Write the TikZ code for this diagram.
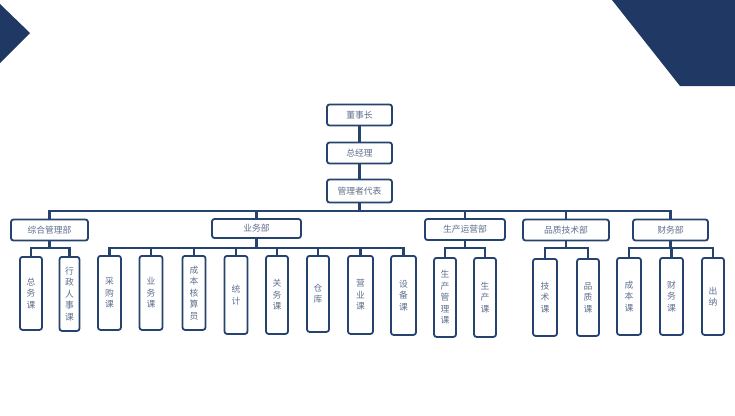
\documentclass[tikz,border=0pt]{standalone}
\usepackage{fontspec}
\newfontfamily\cjk{Noto Sans CJK SC}
\definecolor{navy}{HTML}{1F3864}
\definecolor{boxline}{HTML}{26436F}
\definecolor{boxtext}{HTML}{5F6F8C}

\begin{document}
\begin{tikzpicture}
[x=1pt,y=-1pt,%
  every node/.style={shape=rectangle,rounded corners=2.5pt,draw=boxline,line width=1.8pt,
    inner sep=0pt,text=boxtext,font=\cjk\fontsize{8.8}{11.5}\selectfont},%
  link/.style={draw=boxline,line width=2.2pt},%
  topbox/.style={minimum width=65pt,minimum height=21pt},%
  dept/.style={minimum height=21pt},%
  sect/.style={anchor=north,minimum width=23pt,minimum height=76pt,align=center}]
\useasboundingbox (0,0) rectangle (735,415);
\fill[navy] (0,4) -- (30,33) -- (0,63) -- cycle;
\fill[navy] (612,0) -- (735,0) -- (735,86) -- (680,86) -- cycle;
\node[topbox] (ceo) at (359.5,115) {董事长};
\node[topbox] (gm) at (359.5,153) {总经理};
\node[topbox,minimum height=23pt] (mr) at (359.5,191) {管理者代表};
\node[dept,minimum width=77pt] (d1) at (49.5,230) {综合管理部};
\node[dept,minimum width=89pt,minimum height=19pt] (d2) at (256.5,228.5) {业务部};
\node[dept,minimum width=80pt] (d3) at (465,229.5) {生产运营部};
\node[dept,minimum width=86pt] (d4) at (566,230) {品质技术部};
\node[dept,minimum width=75pt] (d5) at (670.5,230) {财务部};
\node[sect,minimum width=22pt,minimum height=73pt] (s11) at (31,256) {总\\务\\课};
\node[sect,minimum width=20pt,minimum height=74pt] (s12) at (69.5,256) {行\\政\\人\\事\\课};
\node[sect,minimum height=74pt] (s21) at (109.5,255) {采\\购\\课};
\node[sect,minimum height=74pt] (s22) at (151,255) {业\\务\\课};
\node[sect,minimum height=74pt] (s23) at (194,255) {成\\本\\核\\算\\员};
\node[sect,minimum height=78pt] (s24) at (236,255) {统\\计};
\node[sect,minimum width=22pt,minimum height=78pt] (s25) at (277,255) {关\\务\\课};
\node[sect,minimum width=22pt] (s26) at (318,255) {仓\\库};
\node[sect,minimum width=25pt,minimum height=78pt] (s27) at (360.5,255) {营\\业\\课};
\node[sect,minimum width=25pt,minimum height=79pt] (s28) at (403.5,255) {设\\备\\课};
\node[sect,minimum width=22pt,minimum height=79pt] (s31) at (445,257) {生\\产\\管\\理\\课};
\node[sect,minimum width=22pt,minimum height=79pt] (s32) at (485,257) {生\\产\\课};
\node[sect,minimum width=24pt,minimum height=77pt] (s41) at (545,258) {技\\术\\课};
\node[sect,minimum width=22pt,minimum height=77pt] (s42) at (588,258) {品\\质\\课};
\node[sect,minimum width=24pt,minimum height=77pt] (s51) at (629,257) {成\\本\\课};
\node[sect,minimum height=77pt] (s52) at (671.5,257) {财\\务\\课};
\node[sect,minimum width=22pt,minimum height=77pt] (s53) at (713,257) {出\\纳};
\coordinate (mrb) at (359.5,210.7);
\coordinate (d1b) at (49.5,248);
\coordinate (d2b) at (256.5,248);
\coordinate (d3b) at (465,248);
\coordinate (d4b) at (566,248);
\coordinate (d5b) at (670.5,248);
\draw[link] (ceo) -- (gm);
\draw[link] (gm) -- (mr);
\draw[link] (mr) -- (mrb);
\foreach \d in {d1,d2,d3,d4,d5}
  \draw[link] (mrb) -| (\d.north);
\foreach \d/\s in {d1/s11,d1/s12,d2/s21,d2/s22,d2/s23,d2/s24,d2/s25,d2/s26,d2/s27,d2/s28,%
  d3/s31,d3/s32,d4/s41,d4/s42,d5/s51,d5/s52,d5/s53}
  \draw[link] (\d.south) -- (\d b) -| (\s.north);
\end{tikzpicture}
\end{document}
